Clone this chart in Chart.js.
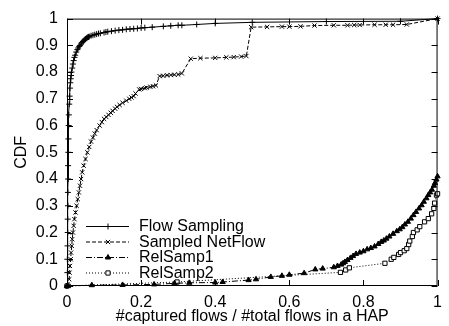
<!DOCTYPE html>
<html>
<head>
<meta charset="utf-8">
<script src="https://cdn.jsdelivr.net/npm/chart.js@4"></script>
<style>
  html, body { margin: 0; padding: 0; background: #fff; }
  #wrap { width: 449px; height: 326px; }
</style>
</head>
<body>
<div id="wrap"><canvas id="cdfChart"></canvas></div>
<script>
const seriesNames = ["Flow Sampling", "Sampled NetFlow", "RelSamp1", "RelSamp2"];

const flowX = [0, 0.001, 0.001, 0.0015, 0.002, 0.002, 0.0025, 0.0025, 0.003, 0.003, 0.0035, 0.004, 0.0045, 0.005, 0.006, 0.007, 0.008, 0.009, 0.01, 0.011, 0.012, 0.014, 0.016, 0.018, 0.02, 0.022, 0.025, 0.028, 0.03, 0.033, 0.035, 0.038, 0.04, 0.043, 0.045, 0.048, 0.05, 0.053, 0.055, 0.058, 0.06, 0.065, 0.07, 0.075, 0.08, 0.085, 0.09, 0.1, 0.105, 0.11, 0.12, 0.13, 0.14, 0.15, 0.16, 0.17, 0.18, 0.19, 0.2, 0.21, 0.23, 0.26, 0.28, 0.3, 0.31, 0.35, 0.4, 0.5, 0.7, 0.9, 1];
const flowY = [0, 0.05, 0.1, 0.15, 0.2, 0.25, 0.3, 0.35, 0.4, 0.45, 0.5, 0.55, 0.6, 0.64, 0.68, 0.71, 0.74, 0.76, 0.775, 0.787, 0.8, 0.815, 0.83, 0.843, 0.855, 0.863, 0.875, 0.884, 0.89, 0.896, 0.9, 0.905, 0.91, 0.914, 0.917, 0.921, 0.924, 0.927, 0.93, 0.931, 0.933, 0.936, 0.938, 0.94, 0.942, 0.944, 0.945, 0.948, 0.95, 0.951, 0.953, 0.955, 0.957, 0.958, 0.96, 0.961, 0.962, 0.963, 0.965, 0.966, 0.968, 0.971, 0.973, 0.975, 0.975, 0.978, 0.982, 0.986, 0.989, 0.99, 1];

const netflowX = [0.005, 0.006, 0.007, 0.008, 0.01, 0.011, 0.013, 0.014, 0.016, 0.018, 0.02, 0.023, 0.026, 0.029, 0.032, 0.035, 0.038, 0.041, 0.045, 0.05, 0.055, 0.06, 0.065, 0.07, 0.075, 0.08, 0.088, 0.094, 0.1, 0.106, 0.112, 0.118, 0.123, 0.13, 0.135, 0.142, 0.15, 0.16, 0.168, 0.174, 0.18, 0.185, 0.195, 0.2, 0.21, 0.215, 0.225, 0.232, 0.24, 0.25, 0.26, 0.27, 0.28, 0.29, 0.3, 0.31, 0.334, 0.36, 0.4, 0.43, 0.45, 0.47, 0.484, 0.497, 0.54, 0.58, 0.6, 0.63, 0.668, 0.72, 0.757, 0.775, 0.79, 0.83, 0.86, 0.88, 0.917, 1];
const netflowY = [0, 0.025, 0.05, 0.075, 0.1, 0.125, 0.15, 0.175, 0.2, 0.225, 0.25, 0.275, 0.3, 0.325, 0.35, 0.375, 0.4, 0.425, 0.45, 0.475, 0.5, 0.52, 0.54, 0.555, 0.57, 0.583, 0.6, 0.613, 0.625, 0.632, 0.64, 0.648, 0.655, 0.663, 0.67, 0.677, 0.685, 0.693, 0.7, 0.705, 0.71, 0.72, 0.735, 0.737, 0.74, 0.742, 0.745, 0.747, 0.75, 0.785, 0.786, 0.788, 0.789, 0.79, 0.791, 0.795, 0.85, 0.852, 0.853, 0.855, 0.856, 0.858, 0.86, 0.968, 0.969, 0.97, 0.97, 0.971, 0.974, 0.975, 0.975, 0.976, 0.976, 0.977, 0.977, 0.977, 0.978, 1];

const rel1X = [0, 0.067, 0.15, 0.235, 0.29, 0.33, 0.4, 0.42, 0.49, 0.51, 0.55, 0.58, 0.6, 0.64, 0.67, 0.69, 0.72, 0.73, 0.74, 0.745, 0.75, 0.757, 0.765, 0.772, 0.78, 0.79, 0.8, 0.81, 0.82, 0.83, 0.84, 0.848, 0.855, 0.862, 0.87, 0.88, 0.89, 0.898, 0.905, 0.912, 0.92, 0.928, 0.935, 0.942, 0.95, 0.957, 0.963, 0.97, 0.975, 0.98, 0.985, 0.99, 0.993, 0.997, 1];
const rel1Y = [0, 0.003, 0.004, 0.006, 0.01, 0.012, 0.013, 0.015, 0.022, 0.025, 0.034, 0.038, 0.042, 0.048, 0.062, 0.065, 0.07, 0.075, 0.08, 0.085, 0.09, 0.097, 0.105, 0.112, 0.12, 0.125, 0.13, 0.137, 0.142, 0.148, 0.157, 0.165, 0.17, 0.177, 0.185, 0.195, 0.205, 0.212, 0.22, 0.23, 0.24, 0.252, 0.265, 0.277, 0.29, 0.302, 0.315, 0.328, 0.34, 0.35, 0.36, 0.375, 0.385, 0.398, 0.41];

const rel2X = [0, 0.297, 0.738, 0.752, 0.762, 0.858, 0.875, 0.882, 0.895, 0.9, 0.91, 0.917, 0.922, 0.925, 0.932, 0.935, 0.945, 0.952, 0.965, 0.975, 0.984, 0.99, 0.992, 0.997, 1];
const rel2Y = [0, 0.015, 0.051, 0.06, 0.068, 0.085, 0.1, 0.107, 0.118, 0.125, 0.132, 0.14, 0.155, 0.168, 0.185, 0.2, 0.21, 0.222, 0.24, 0.252, 0.27, 0.29, 0.31, 0.34, 0.345];

const xTicks = [0, 0.2, 0.4, 0.6, 0.8, 1];
const yTicks = [0, 0.1, 0.2, 0.3, 0.4, 0.5, 0.6, 0.7, 0.8, 0.9, 1];

const FONT = "'Liberation Sans', Arial, sans-serif";

function toPoints(xs, ys) {
  return xs.map((x, i) => ({ x: x, y: ys[i] }));
}

const styles = [
  { dash: [], point: "cross", fill: "#000" },
  { dash: [4, 2], point: "crossRot", fill: "#000" },
  { dash: [6, 2, 1, 2], point: "triangle", fill: "#000" },
  { dash: [1, 2], point: "rect", fill: "#fff" }
];

const allX = [flowX, netflowX, rel1X, rel2X];
const allY = [flowY, netflowY, rel1Y, rel2Y];

const datasets = seriesNames.map((name, i) => ({
  label: name,
  data: toPoints(allX[i], allY[i]),
  showLine: true,
  borderColor: "#000",
  borderWidth: 1,
  borderDash: styles[i].dash,
  pointStyle: styles[i].point,
  pointRadius: 3,
  pointBorderWidth: 1,
  pointBorderColor: "#000",
  pointBackgroundColor: styles[i].fill,
  clip: false
}));

// gnuplot style frame: border plus inward ticks on all four sides
const framePlugin = {
  id: "frame",
  afterDatasetsDraw(chart) {
    const { ctx, chartArea: a, scales } = chart;
    ctx.save();
    ctx.strokeStyle = "#000";
    ctx.lineWidth = 1;
    ctx.setLineDash([]);
    ctx.strokeRect(a.left + 0.5, a.top + 0.5, a.right - a.left - 1, a.bottom - a.top - 1);
    ctx.beginPath();
    yTicks.forEach(v => {
      const y = Math.round(scales.y.getPixelForValue(v)) + 0.5;
      ctx.moveTo(a.left, y); ctx.lineTo(a.left + 6, y);
      ctx.moveTo(a.right, y); ctx.lineTo(a.right - 6, y);
    });
    xTicks.forEach(v => {
      const x = Math.round(scales.x.getPixelForValue(v)) + 0.5;
      ctx.moveTo(x, a.bottom); ctx.lineTo(x, a.bottom - 6);
      ctx.moveTo(x, a.top); ctx.lineTo(x, a.top + 6);
    });
    ctx.stroke();
    ctx.restore();
  }
};

// legend drawn like gnuplot: sample line with marker, then text
const keyPlugin = {
  id: "key",
  afterDraw(chart) {
    const ctx = chart.ctx;
    const rows = [226, 241.5, 257, 272.5];
    ctx.save();
    chart.data.datasets.forEach((ds, i) => {
      const y = rows[i];
      ctx.strokeStyle = "#000";
      ctx.lineWidth = 1;
      ctx.setLineDash(ds.borderDash);
      ctx.beginPath();
      ctx.moveTo(86, y + 0.5);
      ctx.lineTo(129, y + 0.5);
      ctx.stroke();
      ctx.setLineDash([]);
      ctx.fillStyle = ds.pointBackgroundColor;
      Chart.helpers.drawPoint(ctx, { pointStyle: ds.pointStyle, radius: 3, borderWidth: 1, rotation: 0 }, 108, y + 0.5);
      ctx.fillStyle = "#000";
      ctx.font = "16px " + FONT;
      ctx.textBaseline = "middle";
      ctx.textAlign = "left";
      ctx.fillText(ds.label, 139, y + 1);
    });
    ctx.restore();
  }
};

new Chart(document.getElementById("cdfChart"), {
  type: "scatter",
  data: { datasets: datasets },
  options: {
    responsive: true,
    maintainAspectRatio: false,
    animation: false,
    layout: { padding: { top: 12, right: 8, left: 0, bottom: 0 } },
    plugins: {
      legend: { display: false },
      tooltip: { enabled: false }
    },
    scales: {
      x: {
        type: "linear",
        min: 0,
        max: 1,
        grid: { display: false, drawTicks: false },
        border: { display: false },
        afterBuildTicks: s => { s.ticks = xTicks.map(v => ({ value: v })); },
        afterFit: s => { s.height = 40; },
        ticks: {
          color: "#000",
          padding: 7,
          maxRotation: 0,
          font: { family: FONT, size: 16 },
          callback: v => String(v)
        },
        title: {
          display: true,
          text: "#captured flows / #total flows in a HAP",
          color: "#000",
          padding: { top: 0, bottom: 0 },
          font: { family: FONT, size: 16 }
        }
      },
      y: {
        type: "linear",
        min: 0,
        max: 1,
        grid: { display: false, drawTicks: false },
        border: { display: false },
        afterBuildTicks: s => { s.ticks = yTicks.map(v => ({ value: v })); },
        afterFit: s => { s.width = 67; },
        ticks: {
          color: "#000",
          padding: 9,
          font: { family: FONT, size: 16 },
          callback: v => String(v)
        },
        title: {
          display: true,
          text: "CDF",
          color: "#000",
          padding: { top: 12, bottom: 0 },
          font: { family: FONT, size: 16 }
        }
      }
    }
  },
  plugins: [framePlugin, keyPlugin]
});
</script>
</body>
</html>
